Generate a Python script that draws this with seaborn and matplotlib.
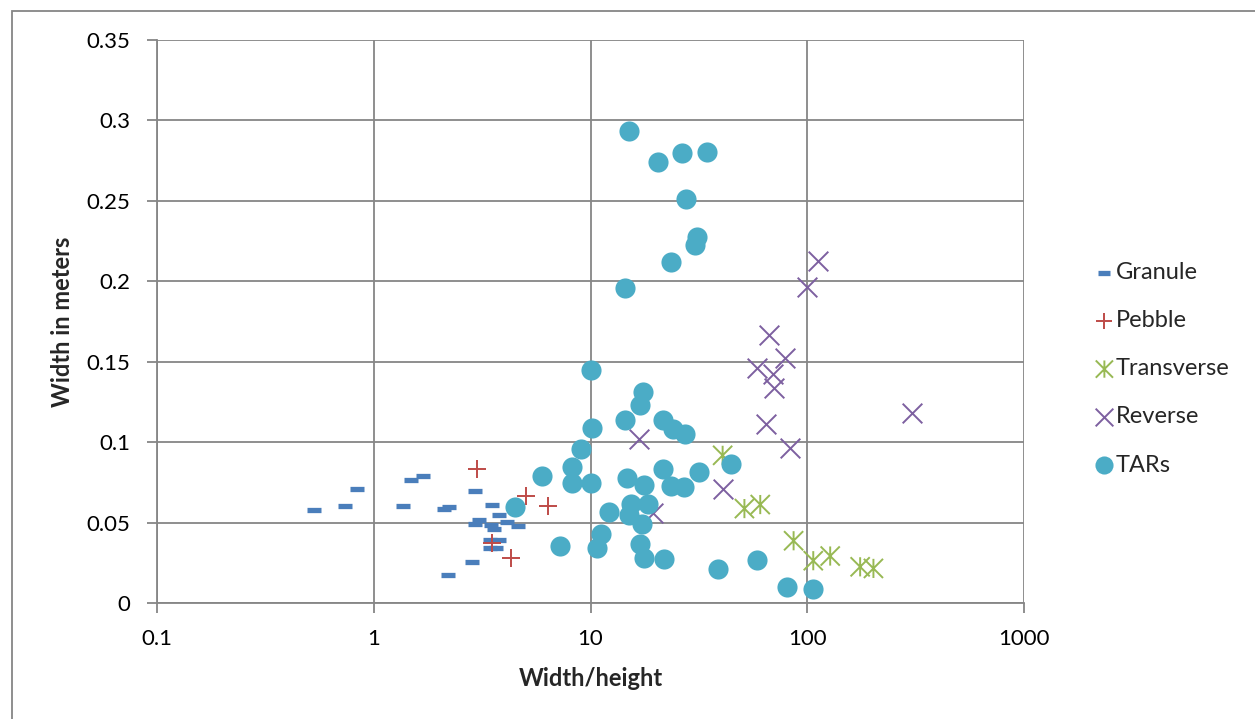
import matplotlib
matplotlib.use("Agg")
import matplotlib.pyplot as plt
import matplotlib.patches as mpatches
from matplotlib.path import Path
import seaborn as sns
from matplotlib.ticker import FixedLocator, FuncFormatter, NullLocator

# data
granule_x = [0.53, 0.74, 0.84, 1.37, 1.48, 1.69, 2.10, 2.22, 2.21, 2.85, 2.94, 2.94,
             3.06, 3.52, 3.78, 3.47, 3.57, 4.10, 4.63, 3.42, 3.78, 3.42, 3.67]
granule_y = [0.058, 0.060, 0.071, 0.060, 0.0765, 0.079, 0.0585, 0.0594, 0.0174, 0.0254,
             0.0695, 0.0492, 0.0515, 0.0608, 0.0546, 0.0482, 0.0459, 0.0504, 0.0476,
             0.0389, 0.0389, 0.0343, 0.0343]

pebble_x = [3.01, 5.02, 6.35, 3.50, 4.31]
pebble_y = [0.0833, 0.0664, 0.0602, 0.0376, 0.0277]

transverse_x = [40.7, 51.3, 60.7, 86.5, 106.6, 127.6, 175.4, 202.0]
transverse_y = [0.0918, 0.0587, 0.0612, 0.0387, 0.0263, 0.0292, 0.0225, 0.0215]

reverse_x = [112.0, 99.3, 66.4, 78.9, 58.6, 69.2, 70.5, 64.5, 83.6, 305.5, 16.8, 19.4, 41.0]
reverse_y = [0.2128, 0.1962, 0.1667, 0.1522, 0.146, 0.1425, 0.1336, 0.1115, 0.0966,
             0.1183, 0.1022, 0.056, 0.0707]

tars_x = [15.0, 20.5, 26.4, 34.4, 27.6, 30.9, 30.4, 23.4, 14.5,
          10.0, 17.4, 16.9, 14.45, 10.18, 21.6, 23.9, 27.4, 9.0, 8.23, 5.97, 8.23,
          10.0, 4.50, 14.7, 17.7, 21.7, 23.6, 26.9, 31.6, 44.7, 15.4, 18.4, 15.1,
          12.2, 17.2, 11.2, 10.7, 7.24, 17.0, 17.7, 21.9, 38.6, 58.4, 80.5, 106.6]
tars_y = [0.2934, 0.2742, 0.2798, 0.2804, 0.251, 0.2277, 0.2225, 0.2117, 0.1958,
          0.145, 0.131, 0.1233, 0.114, 0.109, 0.114, 0.1084, 0.1053, 0.096, 0.0846,
          0.0792, 0.0749, 0.0749, 0.0597, 0.0777, 0.0732, 0.0836, 0.0728, 0.072,
          0.0815, 0.0867, 0.0618, 0.0618, 0.0546, 0.0566, 0.0494, 0.0428, 0.0339,
          0.0354, 0.0366, 0.0277, 0.0275, 0.0211, 0.0265, 0.0097, 0.0085]

x_ticks = [0.1, 1, 10, 100, 1000]
y_ticks = [0, 0.05, 0.1, 0.15, 0.2, 0.25, 0.3, 0.35]

sns.set_style("white")
plt.rcParams["font.family"] = ["Lato", "DejaVu Sans"]

fig = plt.figure(figsize=(12.55, 7.19), dpi=100)
ax = fig.add_axes([157 / 1255, 1 - 603 / 719, 867 / 1255, 563 / 719])

grid_col = "#868686"

# excel style star: x with a vertical bar
star = Path([(-1, -1), (1, 1), (-1, 1), (1, -1), (0, -1), (0, 1)],
            [Path.MOVETO, Path.LINETO, Path.MOVETO, Path.LINETO, Path.MOVETO, Path.LINETO])

sns.scatterplot(x=granule_x, y=granule_y, marker="_", s=90, linewidth=3.8,
                color="#4a7ebb", label="Granule", ax=ax, zorder=3)
sns.scatterplot(x=pebble_x, y=pebble_y, marker="+", s=170, linewidth=1.4,
                color="#be4b48", label="Pebble", ax=ax, zorder=3)
sns.scatterplot(x=transverse_x, y=transverse_y, marker=star, s=190, linewidth=1.4,
                facecolor="none", edgecolor="#98b954", label="Transverse", ax=ax, zorder=3)
sns.scatterplot(x=reverse_x, y=reverse_y, marker="x", s=200, linewidth=1.4,
                color="#7d60a0", label="Reverse", ax=ax, zorder=3)
sns.scatterplot(x=tars_x, y=tars_y, marker="o", s=210, linewidth=0,
                color="#4bacc6", label="TARs", ax=ax, zorder=4)

ax.set_xscale("log")
ax.set_xlim(0.1, 1000)
ax.set_ylim(0, 0.35)
ax.xaxis.set_major_locator(FixedLocator(x_ticks))
ax.xaxis.set_minor_locator(NullLocator())
ax.xaxis.set_major_formatter(FuncFormatter(lambda v, p: f"{v:g}"))
ax.yaxis.set_major_locator(FixedLocator(y_ticks))
ax.yaxis.set_major_formatter(FuncFormatter(lambda v, p: f"{v:g}"))

ax.grid(True, color=grid_col, linewidth=1.3)
ax.set_axisbelow(True)
for side in ["top", "right"]:
    ax.spines[side].set_visible(False)
for side in ["left", "bottom"]:
    ax.spines[side].set_color(grid_col)
    ax.spines[side].set_linewidth(1.3)
ax.tick_params(axis="both", which="major", direction="out", length=7, width=1.3,
               color=grid_col, labelsize=16, labelcolor="black",
               bottom=True, left=True)
ax.tick_params(axis="x", pad=12)
ax.tick_params(axis="y", pad=12)

ax.set_xlabel("Width/height", fontsize=17, fontweight="bold")
ax.set_ylabel("Width in meters", fontsize=17, fontweight="bold")
ax.xaxis.set_label_coords(0.5, -(678 - 603) / 563)
ax.xaxis.label.set_va("center")
ax.yaxis.set_label_coords(-(157 - 63) / 867, 0.5)
ax.yaxis.label.set_va("center")

leg = ax.legend(loc="center left", bbox_to_anchor=(1.058, 0.416), frameon=False,
                fontsize=17, labelspacing=1.15, handletextpad=0.1, handlelength=0.75,
                markerscale=0.9)

# outer chart border
fig.patches.append(mpatches.Rectangle((12 / 1255, -0.1), 1.2, 1 - 11 / 719 + 0.1,
                                      transform=fig.transFigure, fill=False,
                                      edgecolor=grid_col, linewidth=1.3))

fig.savefig("out.png", dpi=100)
